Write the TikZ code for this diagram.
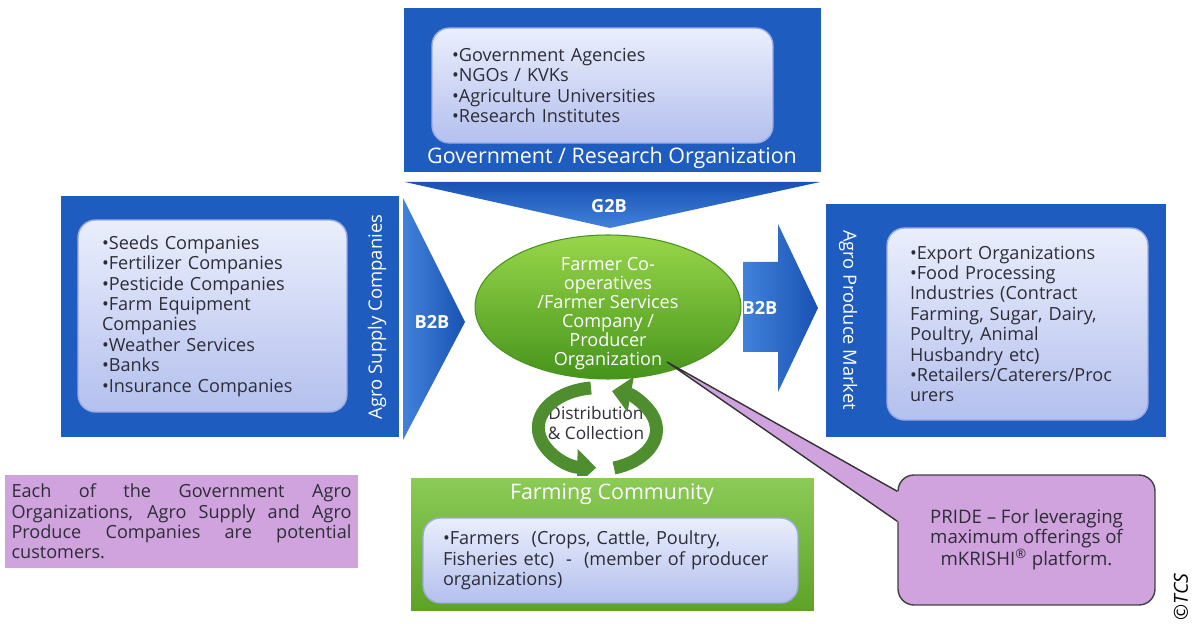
\documentclass[tikz,border=0pt]{standalone}
\usepackage{fontspec}
\setmainfont{Open Sans}
\usetikzlibrary{shapes, positioning, arrows.meta, calc, shadows}

\definecolor{panelblue}{RGB}{30,92,192}
\definecolor{arrowlight}{RGB}{66,130,218}
\definecolor{arrowdark}{RGB}{24,82,180}
\definecolor{listtop}{RGB}{234,238,252}
\definecolor{listbot}{RGB}{180,192,238}
\definecolor{listedge}{RGB}{158,170,226}
\definecolor{greenlight}{RGB}{152,214,74}
\definecolor{greendark}{RGB}{70,148,28}
\definecolor{greenbox}{RGB}{110,190,45}
\definecolor{cyclegreen}{RGB}{78,142,46}
\definecolor{lilac}{RGB}{208,162,222}
\definecolor{textgray}{RGB}{45,45,55}

\newcommand{\listfont}{\fontsize{10.3}{11.6}\selectfont}
\newcommand{\titlefont}{\fontsize{12.2}{13}\selectfont}

\begin{document}
\begin{tikzpicture}[
    x=0.02cm, y=-0.02cm,
    panel/.style={rectangle, fill=panelblue, draw=white, line width=1pt, drop shadow={opacity=0.25, shadow xshift=0.6pt, shadow yshift=-0.6pt}, inner sep=0pt},
    listbox/.style={rectangle, rounded corners=0.35cm, draw=listedge, line width=0.8pt, top color=listtop, bottom color=listbot, text=textgray, align=left, font=\listfont},
    title/.style={text=white, font=\titlefont, inner sep=0pt},
    flowlabel/.style={text=white, font=\listfont\bfseries, inner sep=0pt},
    turn/.style={draw=cyclegreen, line width=0.26cm, -{Triangle[length=0.38cm, width=0.7cm]}},
    note/.style={rectangle, fill=lilac, text=textgray, font=\listfont}
]
\useasboundingbox (0,0) rectangle (1199,624);

% Government / research block
\node[panel, minimum width=8.38cm, minimum height=3.32cm] (gov) at (612.5,90) {};
\node[listbox, minimum width=6.82cm, minimum height=2.3cm, text width=6.02cm, inner xsep=0.4cm] (govlist) at (602.5,85.5)
  {•Government Agencies\\•NGOs / KVKs\\•Agriculture Universities\\•Research Institutes};
\node[title] (govtitle) at (612,158) {Government / Research Organization};

% G2B arrow down to the co-operatives
\coordinate (g2bl) at (405,182);
\coordinate (g2br) at (820,182);
\coordinate (g2bt) at (610,228);
\shade[top color=arrowdark, bottom color=arrowlight] (g2bl) -- (g2br) -- (g2bt) -- cycle;
\node[flowlabel] (g2b) at (609,206) {G2B};

% Agro supply block
\node[panel, minimum width=6.8cm, minimum height=4.86cm] (supply) at (230,316.5) {};
\node[listbox, minimum width=5.38cm, minimum height=3.84cm, text width=4.42cm, inner xsep=0.48cm] (supplylist) at (212.5,316)
  {•Seeds Companies\\•Fertilizer Companies\\•Pesticide Companies\\•Farm Equipment\\Companies\\•Weather Services\\•Banks\\•Insurance Companies};
\node[title, rotate=90, font=\fontsize{10.5}{12}\selectfont] (supplytitle) at (377,317) {Agro Supply Companies};

% B2B arrow from supply
\coordinate (b2bla) at (403,198);
\coordinate (b2blb) at (403,440);
\coordinate (b2blt) at (465,322);
\shade[left color=arrowlight, right color=arrowdark] (b2bla) -- (b2blt) -- (b2blb) -- cycle;
\node[flowlabel] (b2bleft) at (432,322) {B2B};

% Agro produce block
\node[panel, minimum width=6.84cm, minimum height=4.7cm] (market) at (996,320.5) {};
\node[listbox, minimum width=5.22cm, minimum height=3.84cm, text width=4.3cm, inner xsep=0.46cm] (marketlist) at (1017.5,324)
  {•Export Organizations\\•Food Processing\\Industries (Contract\\Farming, Sugar, Dairy,\\Poultry, Animal\\Husbandry etc)\\•Retailers/Caterers/Proc\\urers};
\node[title, rotate=-90, font=\fontsize{10.4}{12}\selectfont] (markettitle) at (848,320) {Agro Produce Market};

% B2B arrow to market
\shade[left color=arrowlight, right color=arrowdark] (743,262) -- (778,262) -- (778,224) -- (818,308)
  -- (778,392) -- (778,352) -- (743,352) -- cycle;
\node[flowlabel] (b2bright) at (760,308) {B2B};

% Farmer co-operatives
\node[ellipse, minimum width=5.32cm, minimum height=2.88cm, inner sep=0pt, top color=greenlight, bottom color=greendark,
  draw=greendark, line width=0.6pt] (coop) at (608,307) {};
\node[text=white, align=center, inner sep=0pt, font=\fontsize{10.3}{10.8}\selectfont] (cooptext) at (608,314)
  {Farmer Co-\\operatives\\/Farmer Services\\Company /\\Producer\\Organization};

% Distribution cycle
\node[text=textgray, align=center, font=\fontsize{9.8}{11.2}\selectfont, inner sep=0pt] (cycle) at (596,423) {Distribution\\\& Collection};
\draw[turn] ($(cycle)+(-0.1cm,0.7cm)$) arc[start angle=97, end angle=268, x radius=1.2cm, y radius=0.8cm];
\draw[turn] ($(cycle)+(0.36cm,-0.9cm)$) arc[start angle=287, end angle=435, x radius=1.2cm, y radius=0.8cm];

% Farming community block
\node[panel, fill=greenbox, top color=greenbox!80!white, bottom color=greenbox!85!black, minimum width=8.1cm, minimum height=2.7cm] (farming) at (612.5,544.5) {};
\node[title] (farmingtitle) at (612,494) {Farming Community};
\node[listbox, minimum width=7.5cm, minimum height=1.7cm, text width=6.7cm, inner xsep=0.4cm] (farminglist) at (610.5,560.5)
  {•Farmers\ \ (Crops, Cattle, Poultry,\\Fisheries etc)\ \ -\ \ (member of producer\\organizations)};

% Notes
\node[note, minimum width=7.06cm, minimum height=1.86cm, text width=6.8cm, inner xsep=0.13cm, align=justify] (customers) at (181.5,521.5)
  {Each of the Government Agro\linebreak Organizations, Agro Supply and Agro\linebreak Produce Companies are potential\linebreak customers.};

\coordinate (tip) at (667,362);
\node[note, rounded corners=0.32cm, draw=black!75, line width=0.8pt, minimum width=5.14cm, minimum height=2.6cm, align=center, font=\fontsize{10.6}{11}\selectfont] (pride) at (1026.5,540)
  {PRIDE -- For leveraging\\maximum offerings of\\mKRISHI\textsuperscript{®} platform.};
\fill[lilac] (tip) -- ($(pride.north west)+(0,17)$) -- ($(pride.north west)+(6,17)$) -- ($(pride.north west)+(6,47)$) -- ($(pride.north west)+(0,47)$) -- cycle;
\draw[black!80, line width=0.8pt] ($(pride.north west)+(0,17)$) -- (tip) -- ($(pride.north west)+(0,47)$);

\node[rotate=90, font=\fontsize{11}{12}\selectfont\itshape, inner sep=0pt] (tcs) at (1181,597) {©TCS};
\end{tikzpicture}
\end{document}
